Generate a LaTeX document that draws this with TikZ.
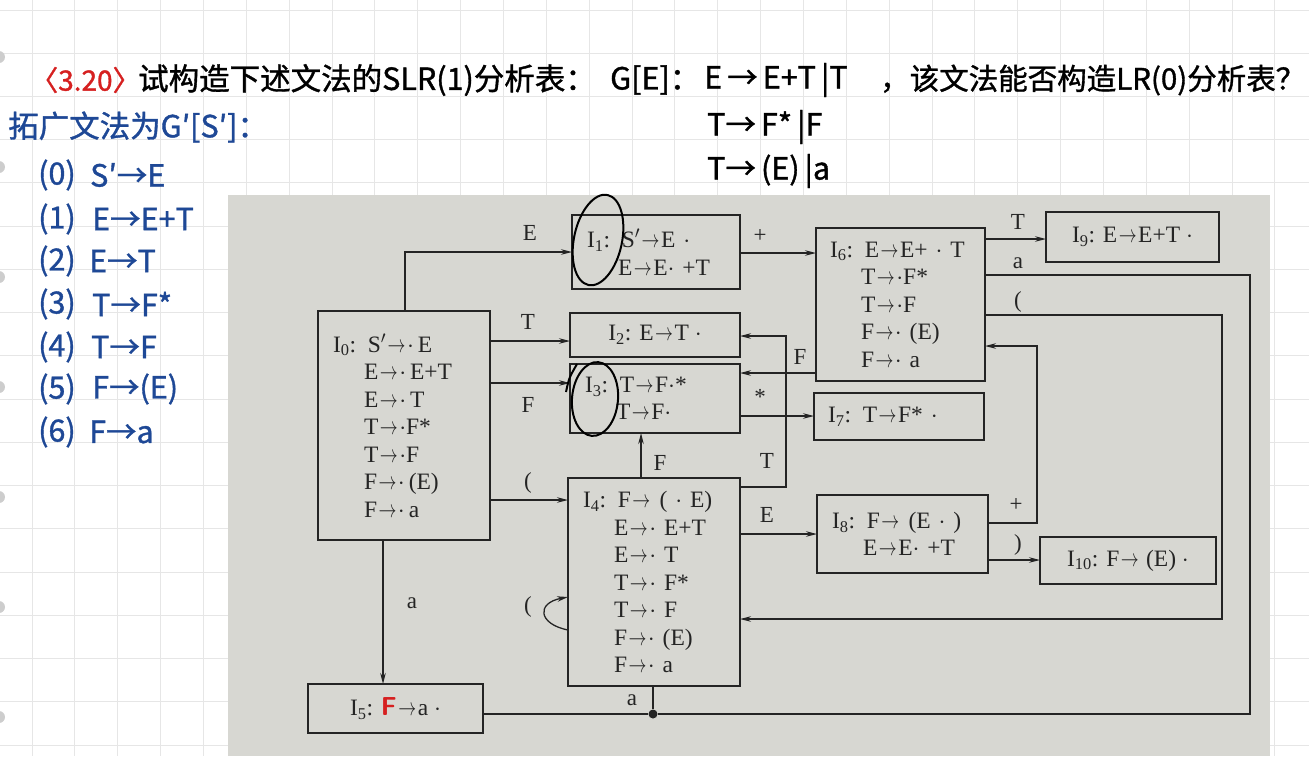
\documentclass[tikz,border=0pt]{standalone}
\usepackage{fontspec}
\usepackage{graphicx}
\setmainfont{Liberation Serif}
\newfontfamily\cjk{Noto Sans CJK SC}[FakeBold=1.2]
\usetikzlibrary{arrows.meta}
\definecolor{gridc}{RGB}{230,230,230}
\definecolor{photo}{RGB}{215,215,210}
\definecolor{ink}{RGB}{36,36,36}
\definecolor{blueink}{RGB}{30,72,150}
\definecolor{redink}{RGB}{214,32,32}
\definecolor{holec}{RGB}{205,205,205}
\newcommand{\tarr}{\kern1.5pt\scalebox{0.72}[1]{$\rightarrow$}\kern1.5pt}
\newcommand{\ind}{\hspace*{31pt}}
\newcommand{\sub}[1]{\textsubscript{#1}}
\begin{document}
\begin{tikzpicture}[x=1pt,y=-1pt,
  box/.style={draw=ink, line width=2.2pt, inner sep=0pt, outer sep=0pt, anchor=north west,
    align=left, text=ink, font=\fontsize{23.5}{27.5}\selectfont},
  cbox/.style={box, align=center},
  edge/.style={draw=ink, line width=1.3pt},
  arr/.style={edge, -{Stealth[length=11pt,width=5.5pt]}},
  lab/.style={text=ink, inner sep=0pt, font=\fontsize{23}{26}\selectfont},
  hw/.style={anchor=west, inner sep=0pt, font=\cjk\fontsize{30.5}{32}\selectfont},
  hwb/.style={hw, text=blueink},
  circ/.style={draw=black, line width=2pt}]
\useasboundingbox (0,0) rectangle (1309,756);
\fill[white] (0,0) rectangle (1309,756);
% grid paper
\foreach \i in {0,...,17} \draw[gridc, line width=1pt] (0,{10+43.24*\i}) -- (1309,{10+43.24*\i});
\foreach \k in {0,...,29} \draw[gridc, line width=1pt] ({32+42.86*\k},0) -- ({32+42.86*\k},756);
\foreach \y in {57,167,277,387,497,607,717} \fill[holec] (-1,\y) circle (6pt);
% photo
\fill[photo] (228,195) rectangle (1270,756);

% handwritten header
\node[hw, text=redink, font=\cjk\fontsize{28}{30}\selectfont] (num) at (30,80) {〈3.20〉};
\node[hw] (q1) at (138,80) {试构造下述文法的SLR(1)分析表：};
\node[hw] (g1) at (610,80) {G[E]：};
\node[hw] (g2) at (704,80) {E\,→\,E+T\,|T};
\node[hw, font=\cjk\fontsize{29.5}{32}\selectfont] (q2) at (880,80) {，该文法能否构造LR(0)分析表？};
\node[hw] (g3) at (707,127) {T→\,F*\,|F};
\node[hw] (g4) at (707,171) {T→\,(E)\,|a};
\node[hwb] (aug) at (8,127) {拓广文法为G′[S′]：};
\node[hwb] (n0) at (38,175) {(0)}; \node[hwb] (r0) at (90,175) {S′→E};
\node[hwb] (n1) at (38,219) {(1)}; \node[hwb] (r1) at (92,219) {E→E+T};
\node[hwb] (n2) at (38,261) {(2)}; \node[hwb] (r2) at (89,261) {E→T};
\node[hwb] (n3) at (38,304) {(3)}; \node[hwb] (r3) at (92,304) {T→F*};
\node[hwb] (n4) at (38,347) {(4)}; \node[hwb] (r4) at (91,347) {T→F};
\node[hwb] (n5) at (38,389) {(5)}; \node[hwb] (r5) at (92,389) {F→(E)};
\node[hwb] (n6) at (38,432) {(6)}; \node[hwb] (r6) at (89,432) {F→a};

% item-set boxes
\node[box, minimum width=172pt, minimum height=229pt, text width=142pt] (I0) at (318,311) {%
I\sub{0}: S$'$\tarr$\cdot$\,E\\
\ind E\tarr$\cdot$\,E+T\\
\ind E\tarr$\cdot$\,T\\
\ind T\tarr$\cdot$F*\\
\ind T\tarr$\cdot$F\\
\ind F\tarr$\cdot$\,(E)\\
\ind F\tarr$\cdot$\,a};
\node[box, minimum width=168pt, minimum height=74pt, text width=138pt] (I1) at (572,215) {%
I\sub{1}: S$'$\tarr E $\cdot$\\
\ind E\tarr E$\cdot$ +T};
\node[cbox, minimum width=170pt, minimum height=44pt] (I2) at (570,313) {I\sub{2}: E\tarr T $\cdot$};
\node[box, minimum width=170pt, minimum height=69pt, text width=140pt] (I3) at (570,364) {%
I\sub{3}: T\tarr F$\cdot$*\\
\ind T\tarr F$\cdot$};
\node[box, minimum width=172pt, minimum height=208pt, text width=142pt] (I4) at (568,478) {%
I\sub{4}: F\tarr\ ( $\cdot$ E)\\
\ind E\tarr$\cdot$ E+T\\
\ind E\tarr$\cdot$ T\\
\ind T\tarr$\cdot$ F*\\
\ind T\tarr$\cdot$ F\\
\ind F\tarr$\cdot$ (E)\\
\ind F\tarr$\cdot$ a};
\node[cbox, minimum width=175pt, minimum height=49pt] (I5) at (308,684) {%
I\sub{5}: {\color{redink}\sffamily\bfseries\fontsize{26}{27}\selectfont F}\tarr a $\cdot$};
\node[box, minimum width=169pt, minimum height=153pt, text width=141pt] (I6) at (816,228) {%
I\sub{6}: E\tarr E+ $\cdot$ T\\
\ind T\tarr$\cdot$F*\\
\ind T\tarr$\cdot$F\\
\ind F\tarr$\cdot$ (E)\\
\ind F\tarr$\cdot$ a};
\node[box, minimum width=170pt, minimum height=47pt, text width=142pt] (I7) at (814,393) {%
I\sub{7}: T\tarr F* $\cdot$};
\node[box, minimum width=171pt, minimum height=78pt, text width=141pt] (I8) at (817,495) {%
I\sub{8}: F\tarr\ (E $\cdot$ )\\
\ind E\tarr E$\cdot$ +T};
\node[cbox, minimum width=173pt, minimum height=50pt] (I9) at (1046,212) {I\sub{9}: E\tarr E+T $\cdot$};
\node[cbox, minimum width=176pt, minimum height=47pt] (I10) at (1040,537) {I\sub{10}: F\tarr\ (E) $\cdot$};

% junction and corner coordinates
\node[circle, fill=ink, inner sep=0pt, minimum size=9pt] (dot) at (653,714) {};
\coordinate (ka) at (1250,714);
\coordinate (kb) at (1250,275);
\coordinate (pa) at (1222,315);
\coordinate (pb) at (1222,619);
\coordinate (sa) at (1037,523);
\coordinate (sb) at (1037,346);
\coordinate (ta) at (786,487);
\coordinate (tb) at (786,336);

% connectors
\draw[arr] ([xshift=87pt]I0.north west) |- (I1.west |- 0,252);
\draw[arr] (I0.east |- 0,341) -- (I2.west |- 0,341);
\draw[arr] (I0.east |- 0,383) -- (I3.west |- 0,383);
\draw[arr] (I0.east |- 0,500) -- (I4.west |- 0,500);
\draw[arr] (I0.south -| 383,0) -- (I5.north -| 383,0);
\draw[arr] (I1.east |- 0,253) -- (I6.west |- 0,253);
\draw[arr] (I6.east |- 0,239) -- (I9.west |- 0,239);
\draw[edge] (I6.east |- kb) -- (kb) -- (ka) -- (dot) -- (I5.east |- dot);
\draw[edge] (I4.south -| dot) -- (dot);
\draw[arr] (I6.east |- pa) -- (pa) -- (pb) -- (I4.east |- pb);
\draw[arr] (I8.east |- sa) -- (sa) -- (sb) -- (I6.east |- sb);
\draw[arr] (I8.east |- 0,560) -- (I10.west |- 0,560);
\draw[arr] (I4.east |- 0,534) -- (I8.west |- 0,534);
\draw[arr] (I4.north -| 641,0) -- (I3.south -| 641,0);
\draw[arr] (I4.east |- ta) -- (ta) -- (tb) -- (I2.east |- tb);
\draw[arr] (I6.west |- 0,373) -- (I3.east |- 0,373);
\draw[arr] (I3.east |- 0,416) -- (I7.west |- 0,416);
\draw[arr] (I4.west |- 0,630) .. controls (538,624) and (536,603) .. (I4.west |- 0,597);

% connector labels
\node[lab] (lE) at (530,233) {E};
\node[lab] (lT) at (528,322) {T};
\node[lab] (lF) at (528,405) {F};
\node[lab] (lP) at (528,483) {(};
\node[lab] (la) at (412,603) {a};
\node[lab] (lplus) at (760,236) {+};
\node[lab] (lT9) at (1018,222) {T};
\node[lab] (la6) at (1018,263) {a};
\node[lab] (lP6) at (1018,302) {(};
\node[lab] (lF6) at (800,357) {F};
\node[lab] (lstar) at (760,397) {*};
\node[lab] (lF4) at (660,463) {F};
\node[lab] (lT4) at (767,461) {T};
\node[lab] (lE4) at (767,515) {E};
\node[lab] (lplus8) at (1016,505) {+};
\node[lab] (lclose) at (1018,545) {)};
\node[lab] (lloop) at (528,607) {(};
\node[lab] (la4) at (632,700) {a};

% handwritten circles
\draw[circ] (598,240) ellipse [x radius=24pt, y radius=46pt, rotate=-12];
\draw[circ] (595,399) ellipse [x radius=23pt, y radius=37pt, rotate=-5];
\draw[circ] (566,392) .. controls (569,378) .. (577,364);
\end{tikzpicture}
\end{document}
